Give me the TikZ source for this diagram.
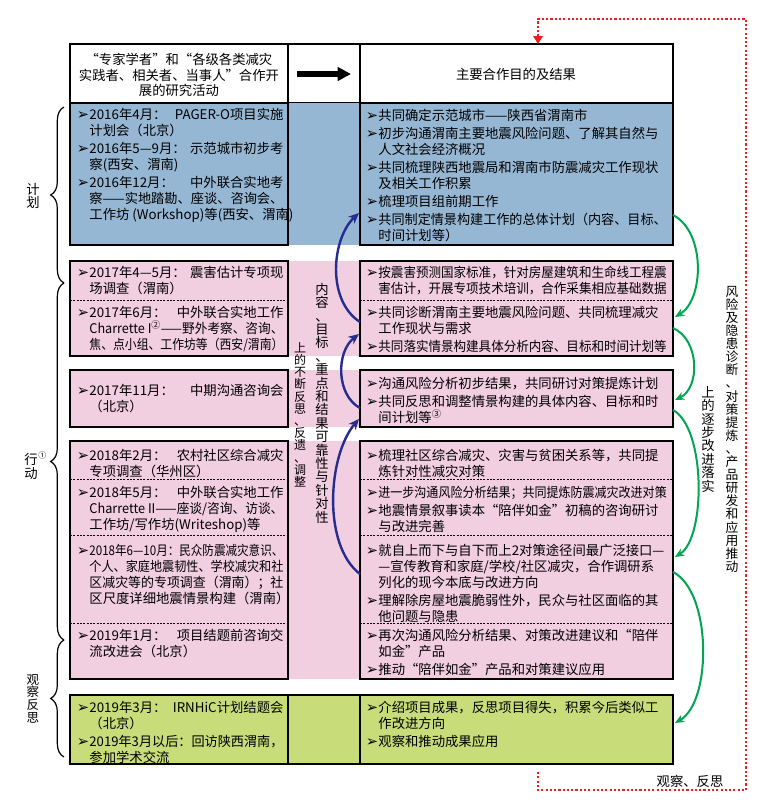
\documentclass[tikz,border=0pt]{standalone}
\usepackage{fontspec}
\setmainfont{Noto Sans CJK SC}
\newfontfamily\dvs{DejaVu Sans}
\usepackage{graphicx}
\usetikzlibrary{arrows.meta, decorations.pathreplacing, calc}
\XeTeXlinebreaklocale "zh"
\XeTeXlinebreakskip = 0pt plus 4pt minus 1.2pt

\definecolor{bluF}{RGB}{150,183,212}
\definecolor{pinkF}{RGB}{242,206,225}
\definecolor{grnF}{RGB}{201,220,122}
\definecolor{arrB}{RGB}{38,45,140}
\definecolor{arrG}{RGB}{0,166,81}
\definecolor{arrR}{RGB}{232,32,32}

% bullet, indent and justified lines
\newcommand\bu{\makebox[9.5pt][l]{\dvs\fontsize{11}{11}\selectfont ➢}}
\newcommand\ind{\hspace*{9.5pt}}
\newsavebox\lnbox
\newcommand\fitln[2]{\sbox\lnbox{#2}\ifdim\wd\lnbox>#1\relax\scalebox{\fpeval{(#1)/(\the\wd\lnbox)}}[1]{\usebox\lnbox}\else\makebox[#1][s]{#2}\fi}
\newcommand\jl[1]{\fitln{145.5pt}{#1}}
\newcommand\jr[1]{\fitln{216.25pt}{#1}}

\begin{document}
\begin{tikzpicture}[x=0.75pt, y=-0.75pt,
                cell/.style={draw, line width=1.1pt},
                sep/.style={line width=0.5pt, dash pattern=on 1.5pt off 1pt},
                txt/.style={anchor=north west, align=left, inner sep=0pt,
                  font=\fontsize{10}{12}\selectfont},
                vch/.style={inner sep=0pt, text height=7.3pt, text depth=1pt,
                  font=\fontsize{#1}{#1}\selectfont},
                vch/.default=10,
                bluarr/.style={arrB, line width=1.8pt, -{Stealth[length=8pt,width=7pt]}},
                grnarr/.style={arrG, line width=1.5pt, -{Stealth[length=7pt,width=6pt]}},
                redloop/.style={arrR, line width=1.6pt, dash pattern=on 1.6pt off 1.6pt,
                  -{Triangle[length=6pt,width=7pt]}},
                brc/.style={decorate, decoration={brace, amplitude=10pt}, line width=0.9pt}
                ]
  \useasboundingbox (0,0) rectangle (762,801);
  \fill[white] (0,0) rectangle (762,801);

  % header
  \draw[cell] (70,44) rectangle (288,103);
  \draw[cell] (288,44) rectangle (360,103);
  \draw[cell] (360,44) rectangle (673,103);
  \node[align=center, inner sep=0pt, font=\fontsize{10}{11.6}\selectfont] (hl) at (179,75)
    {“专家学者”和“各级各类减灾\\实践者、相关者、当事人”合作开\\展的研究活动};
  \node[inner sep=0pt, font=\fontsize{10}{12}\selectfont] (hr) at (516,74) {主要合作目的及结果};
  \coordinate (ha) at (297,74);
  \coordinate (hb) at (351,74);
  \draw[line width=4.5pt, -{Triangle[length=10pt,width=10pt]}] (ha) -- (hb);

  % rows
  \fill[bluF] (70,103) rectangle (673,245);
  \draw[cell] (70,103) rectangle (288,245);
  \draw[cell] (360,103) rectangle (673,245);

  \fill[pinkF] (70,261) rectangle (673,356);
  \draw[cell] (70,261) rectangle (288,356);
  \draw[cell] (360,261) rectangle (673,356);
  \draw[sep] (70,300) -- (288,300) (360,300) -- (673,300);

  \fill[pinkF] (70,370) rectangle (673,427);
  \draw[cell] (70,370) rectangle (288,427);
  \draw[cell] (360,370) rectangle (673,427);

  \fill[pinkF] (70,441) rectangle (673,679);
  \draw[cell] (70,441) rectangle (288,679);
  \draw[cell] (360,441) rectangle (673,679);
  \draw[sep] (70,479) -- (288,479) (360,479) -- (673,479);
  \draw[sep] (70,535) -- (288,535) (360,535) -- (673,535);
  \draw[sep] (70,623) -- (288,623) (360,623) -- (673,623);

  \fill[grnF] (70,695) rectangle (673,764);
  \draw[cell] (70,695) rectangle (673,764);
  \draw[cell] (288,695) -- (288,764) (360,695) -- (360,764);

  % left column
  \node[txt] (bl) at (76.5,108) {\bu\jl{2016年4月：\hfill PAGER-O项目实施}\\
    \ind 计划会（北京）\\[1.5pt]
    \bu\jl{2016年5—9月：\hfill 示范城市初步考}\\
    \ind 察(西安、渭南)\\[1.5pt]
    \bu\jl{2016年12月：\hfill 中外联合实地考}\\
    \ind\jl{察——实地踏勘、座谈、咨询会、}\\
    \ind 工作坊 (Workshop)等(西安、渭南)};
  \node[txt] (pa1) at (76.5,266) {\bu\jl{2017年4—5月：\hfill 震害估计专项现}\\
    \ind 场调查（渭南）};
  \node[txt] (pa2) at (76.5,306) {\bu\jl{2017年6月：\hfill 中外联合实地工作}\\
    \ind\jl{Charrette I\textsuperscript{②}\hfill ——野外考察、咨询、}\\
    \ind\jl{焦、点小组、工作坊等（西安/渭南）}};
  \node[txt] (pb) at (76.5,384) {\bu\jl{2017年11月：\hfill 中期沟通咨询会}\\
    \ind （北京）};
  \node[txt] (pc1) at (76.5,449) {\bu\jl{2018年2月：\hfill 农村社区综合减灾}\\
    \ind 专项调查（华州区）};
  \node[txt] (pc2) at (76.5,486) {\bu\jl{2018年5月：\hfill 中外联合实地工作}\\
    \ind\jl{Charrette II——座谈/咨询、访谈、}\\
    \ind 工作坊/写作坊(Writeshop)等};
  \node[txt] (pc3) at (76.5,544) {\bu\jl{2018年6—10月：民众防震减灾意识、}\\
    \ind\jl{个人、家庭地震韧性、学校减灾和社}\\
    \ind\jl{区减灾等的专项调查（渭南）；社}\\
    \ind 区尺度详细地震情景构建（渭南）};
  \node[txt] (pc4) at (76.5,629) {\bu\jl{2019年1月：\hfill 项目结题前咨询交}\\
    \ind 流改进会（北京）};
  \node[txt] (gl) at (76.5,701) {\bu\jl{2019年3月：\hfill IRNHiC计划结题会}\\
    \ind （北京）\\[1.5pt]
    \bu\jl{2019年3月以后：回访陕西渭南，}\\
    \ind 参加学术交流};

  % right column
  \node[txt] (br) at (365.5,109) {\bu 共同确定示范城市——陕西省渭南市\\[1.5pt]
    \bu\jr{初步沟通渭南主要地震风险问题、了解其自然与}\\
    \ind 人文社会经济概况\\[1.5pt]
    \bu\jr{共同梳理陕西地震局和渭南市防震减灾工作现状}\\
    \ind 及相关工作积累\\[1.5pt]
    \bu 梳理项目组前期工作\\[1.5pt]
    \bu\jr{共同制定情景构建工作的总体计划（内容、目标、}\\
    \ind 时间计划等）};
  \node[txt] (pr1) at (365.5,266) {\bu\jr{按震害预测国家标准，针对房屋建筑和生命线工程震}\\
    \ind\jr{害估计，开展专项技术培训，合作采集相应基础数据}};
  \node[txt] (pr2) at (365.5,306) {\bu\jr{共同诊断渭南主要地震风险问题、共同梳理减灾}\\
    \ind 工作现状与需求\\[1.5pt]
    \bu\jr{共同落实情景构建具体分析内容、目标和时间计划等}};
  \node[txt] (prb) at (365.5,377) {\bu 沟通风险分析初步结果，共同研讨对策提炼计划\\[1.5pt]
    \bu\jr{共同反思和调整情景构建的具体内容、目标和时}\\
    \ind 间计划等\textsuperscript{③}};
  \node[txt] (prc1) at (365.5,449) {\bu\jr{梳理社区综合减灾、灾害与贫困关系等，共同提}\\
    \ind 炼针对性减灾对策};
  \node[txt] (prc2) at (365.5,486) {\bu\jr{进一步沟通风险分析结果；共同提炼防震减灾改进对策}\\[1.5pt]
    \bu\jr{地震情景叙事读本“陪伴如金”初稿的咨询研讨}\\
    \ind 与改进完善};
  \node[txt] (prc3) at (365.5,544) {\bu\jr{就自上而下与自下而上2对策途径间最广泛接口—}\\
    \ind\jr{—宣传教育和家庭/学校/社区减灾，合作调研系}\\
    \ind 列化的现今本底与改进方向\\[1.5pt]
    \bu\jr{理解除房屋地震脆弱性外，民众与社区面临的其}\\
    \ind 他问题与隐患};
  \node[txt] (prc4) at (365.5,629) {\bu\jr{再次沟通风险分析结果、对策改进建议和“陪伴}\\
    \ind 如金”产品\\[1.5pt]
    \bu 推动“陪伴如金”产品和对策建议应用};
  \node[txt] (gr) at (365.5,701) {\bu\jr{介绍项目成果，反思项目得失，积累今后类似工}\\
    \ind 作改进方向\\[1.5pt]
    \bu 观察和推动成果应用};

  % braces on the left
  \draw[brc] (64,283) -- (64,107);
  \draw[brc] (64,640) -- (64,283);
  \draw[brc] (64,757) -- (64,640);
  \foreach \c [count=\i from 0] in {计,划}
    \node[vch] (lp\i) at (33,{190+13.4*\i}) {\c};
  \node[vch] (la0) at (31,460) {行};
  \node[vch=6] (la1) at (42.5,454) {①};
  \node[vch] (la2) at (31,474) {动};
  \foreach \c [count=\i from 0] in {观,察,反,思}
    \node[vch=9.4] (lo\i) at (33,{680+12.7*\i}) {\c};

  % middle vertical texts
  \foreach \c [count=\i from 0] in {内,容,、,目,标,、,重,点,和,结,果,可,靠,性,与,针,对,性}
    \node[vch] (mr\i) at (322,{290+13.4*\i}) {\c};
  \foreach \c [count=\i from 0] in {上,的,不,断,反,思,、,反,遗,、,调,整}
    \node[vch=9] (ml\i) at (300,{348+12.2*\i}) {\c};

  % blue feedback arrows
  \coordinate (u1) at (360,322);
  \coordinate (v1) at (359,213);
  \coordinate (u2) at (360,408);
  \coordinate (v2) at (359,334);
  \coordinate (u3) at (360,574);
  \coordinate (v3) at (359,419);
  \draw[bluarr] (u1) .. controls (326,300) and (332,238) .. (v1);
  \draw[bluarr] (u2) .. controls (336,395) and (336,352) .. (v2);
  \draw[bluarr] (u3) .. controls (322,545) and (328,455) .. (v3);

  % green arrows on the right
  \coordinate (g1) at (673,215);
  \coordinate (h1) at (675,317);
  \coordinate (g2) at (673,328);
  \coordinate (h2) at (675,400);
  \coordinate (g3) at (673,410);
  \coordinate (h3) at (675,557);
  \coordinate (g4) at (673,572);
  \coordinate (h4) at (675,723);
  \draw[grnarr] (g1) .. controls (706,232) and (704,300) .. (h1);
  \draw[grnarr] (g2) .. controls (700,340) and (700,388) .. (h2);
  \draw[grnarr] (g3) .. controls (706,428) and (706,538) .. (h3);
  \draw[grnarr] (g4) .. controls (712,592) and (712,702) .. (h4);

  \foreach \c [count=\i from 0] in {上,的,逐,步,改,进,落,实}
    \node[vch] (ri\i) at (708,{393+13.4*\i}) {\c};
  \foreach \c [count=\i from 0] in {风,险,及,隐,患,诊,断,、,对,策,提,炼,、,产,品,研,发,和,应,用,推,动}
    \node[vch=9.6] (ro\i) at (732,{292+13.1*\i}) {\c};

  % red loop
  \coordinate (rb) at (538,772);
  \coordinate (rt) at (538,44);
  \draw[redloop] (rb) -- (538,790) -- (746,790) -- (746,19) -- (538,19) -- (rt);
  \node[inner sep=0pt, font=\fontsize{10}{12}\selectfont] (obs) at (690,781) {观察、反思};
\end{tikzpicture}
\end{document}
